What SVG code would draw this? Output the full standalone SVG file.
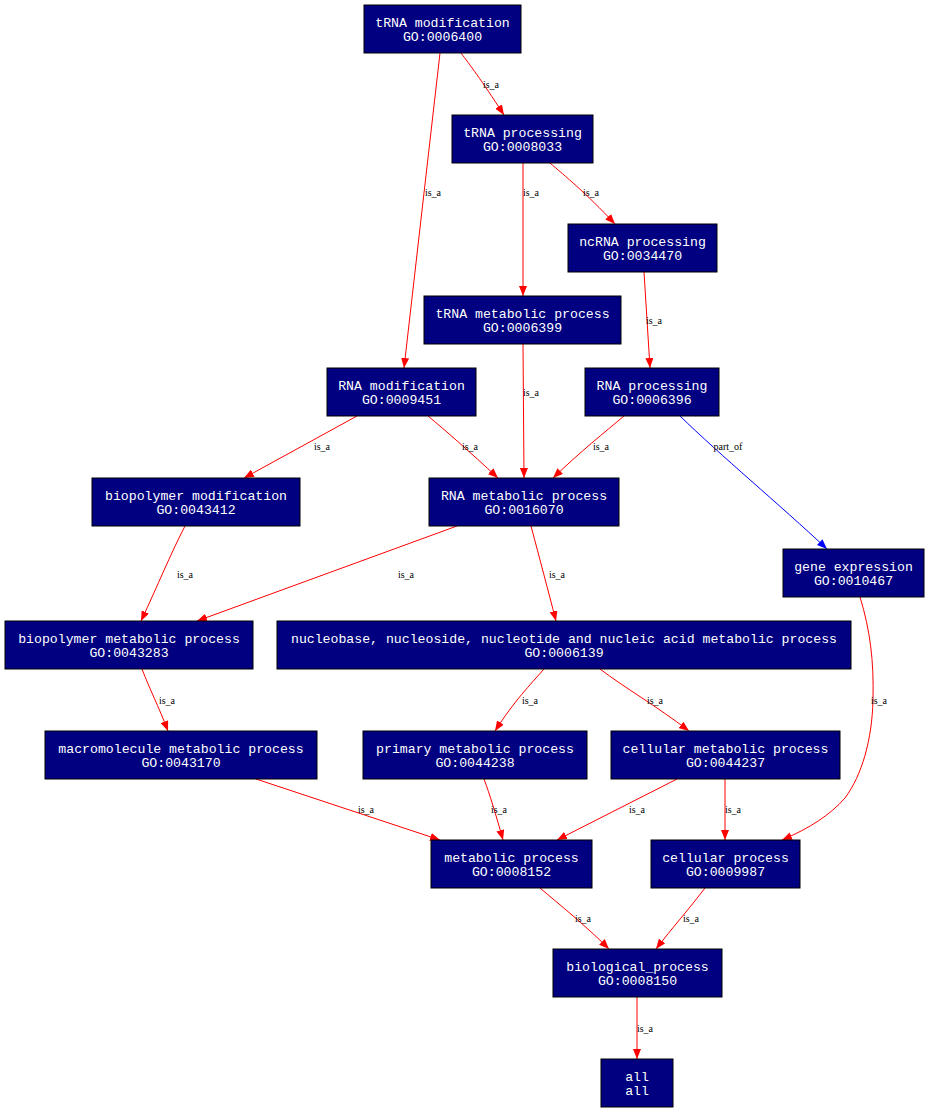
<svg xmlns="http://www.w3.org/2000/svg" width="929" height="1112" viewBox="0 0 929 1112">
<style>
.node rect{fill:#000080;stroke:#000000;stroke-width:1}
.node text{fill:#ffffff;font-family:"Liberation Mono","DejaVu Sans Mono",monospace;font-size:13.2px;text-anchor:middle}
.e{fill:none;stroke:#ff0000;stroke-width:1;marker-end:url(#ar)}
.b{fill:none;stroke:#0000ff;stroke-width:1;marker-end:url(#ab)}
.lbl{fill:#000000;font-family:"Liberation Serif","Times New Roman",serif;font-size:10px;text-anchor:middle}
</style>
<defs>
<marker id="ar" viewBox="0 0 10 8" refX="10" refY="4" markerWidth="10" markerHeight="8" markerUnits="userSpaceOnUse" orient="auto"><path d="M0,0 L10,4 L0,8 z" fill="#ff0000"/></marker>
<marker id="ab" viewBox="0 0 10 8" refX="10" refY="4" markerWidth="10" markerHeight="8" markerUnits="userSpaceOnUse" orient="auto"><path d="M0,0 L10,4 L0,8 z" fill="#0000ff"/></marker>
</defs>
<rect width="929" height="1112" fill="#ffffff"/>
<g id="connectors">
<path class="e" d="M461,53 C470,65 480,78 504,115"/>
<path class="e" d="M440,53 L404,368"/>
<path class="e" d="M523,163 L523,296"/>
<path class="e" d="M550,163 C565,176 585,192 615,224"/>
<path class="e" d="M644,272 L650,368"/>
<path class="e" d="M523,344 L524,478"/>
<path class="e" d="M357,416 L244,478"/>
<path class="e" d="M428,416 C445,430 470,452 498,478"/>
<path class="e" d="M624,416 C605,432 580,452 553,478"/>
<path class="b" d="M680,416 C720,455 780,505 827,549"/>
<path class="e" d="M185,526 C170,555 158,585 141,621"/>
<path class="e" d="M457,526 L197,621"/>
<path class="e" d="M531,526 C540,560 548,590 556,621"/>
<path class="e" d="M860,597 C870,630 874,660 873,700 C872,740 862,775 845,798 C830,815 810,828 782,840"/>
<path class="e" d="M142,669 C150,690 158,705 168,731"/>
<path class="e" d="M544,669 C530,685 515,700 495,731"/>
<path class="e" d="M600,669 C625,688 655,705 689,731"/>
<path class="e" d="M256,779 L440,840"/>
<path class="e" d="M484,779 C490,795 496,815 503,840"/>
<path class="e" d="M677,779 L557,840"/>
<path class="e" d="M725,779 L725,840"/>
<path class="e" d="M540,888 C560,905 585,925 609,949"/>
<path class="e" d="M705,888 C690,908 672,928 656,949"/>
<path class="e" d="M637,997 L637,1059"/>
<text class="lbl" x="491" y="88">is_a</text>
<text class="lbl" x="433" y="196">is_a</text>
<text class="lbl" x="531" y="196">is_a</text>
<text class="lbl" x="591" y="196">is_a</text>
<text class="lbl" x="654" y="324">is_a</text>
<text class="lbl" x="531" y="396">is_a</text>
<text class="lbl" x="322" y="450">is_a</text>
<text class="lbl" x="470" y="450">is_a</text>
<text class="lbl" x="601" y="450">is_a</text>
<text class="lbl" x="728" y="450">part_of</text>
<text class="lbl" x="185" y="578">is_a</text>
<text class="lbl" x="406" y="578">is_a</text>
<text class="lbl" x="557" y="578">is_a</text>
<text class="lbl" x="879" y="704">is_a</text>
<text class="lbl" x="167" y="704">is_a</text>
<text class="lbl" x="530" y="704">is_a</text>
<text class="lbl" x="655" y="704">is_a</text>
<text class="lbl" x="366" y="813">is_a</text>
<text class="lbl" x="499" y="813">is_a</text>
<text class="lbl" x="637" y="813">is_a</text>
<text class="lbl" x="733" y="813">is_a</text>
<text class="lbl" x="583" y="922">is_a</text>
<text class="lbl" x="691" y="922">is_a</text>
<text class="lbl" x="645" y="1032">is_a</text>
</g>
<g id="n_GO0006400" class="node"><rect x="364" y="5" width="157" height="48"/><text x="442.5" y="27">tRNA modification</text><text x="442.5" y="41">GO:0006400</text></g>
<g id="n_GO0008033" class="node"><rect x="452" y="115" width="141" height="48"/><text x="522.5" y="137">tRNA processing</text><text x="522.5" y="151">GO:0008033</text></g>
<g id="n_GO0034470" class="node"><rect x="568" y="224" width="149" height="48"/><text x="642.5" y="246">ncRNA processing</text><text x="642.5" y="260">GO:0034470</text></g>
<g id="n_GO0006399" class="node"><rect x="424" y="296" width="197" height="48"/><text x="522.5" y="318">tRNA metabolic process</text><text x="522.5" y="332">GO:0006399</text></g>
<g id="n_GO0009451" class="node"><rect x="327" y="368" width="149" height="48"/><text x="401.5" y="390">RNA modification</text><text x="401.5" y="404">GO:0009451</text></g>
<g id="n_GO0006396" class="node"><rect x="585" y="368" width="134" height="48"/><text x="652" y="390">RNA processing</text><text x="652" y="404">GO:0006396</text></g>
<g id="n_GO0043412" class="node"><rect x="92" y="478" width="208" height="48"/><text x="196" y="500">biopolymer modification</text><text x="196" y="514">GO:0043412</text></g>
<g id="n_GO0016070" class="node"><rect x="429" y="478" width="190" height="48"/><text x="524" y="500">RNA metabolic process</text><text x="524" y="514">GO:0016070</text></g>
<g id="n_GO0010467" class="node"><rect x="783" y="549" width="141" height="48"/><text x="853.5" y="571">gene expression</text><text x="853.5" y="585">GO:0010467</text></g>
<g id="n_GO0043283" class="node"><rect x="5" y="621" width="248" height="48"/><text x="129" y="643">biopolymer metabolic process</text><text x="129" y="657">GO:0043283</text></g>
<g id="n_GO0006139" class="node"><rect x="277" y="621" width="574" height="48"/><text x="564" y="643">nucleobase, nucleoside, nucleotide and nucleic acid metabolic process</text><text x="564" y="657">GO:0006139</text></g>
<g id="n_GO0043170" class="node"><rect x="45" y="731" width="272" height="48"/><text x="181" y="753">macromolecule metabolic process</text><text x="181" y="767">GO:0043170</text></g>
<g id="n_GO0044238" class="node"><rect x="363" y="731" width="224" height="48"/><text x="475" y="753">primary metabolic process</text><text x="475" y="767">GO:0044238</text></g>
<g id="n_GO0044237" class="node"><rect x="611" y="731" width="229" height="48"/><text x="725.5" y="753">cellular metabolic process</text><text x="725.5" y="767">GO:0044237</text></g>
<g id="n_GO0008152" class="node"><rect x="431" y="840" width="161" height="48"/><text x="511.5" y="862">metabolic process</text><text x="511.5" y="876">GO:0008152</text></g>
<g id="n_GO0009987" class="node"><rect x="651" y="840" width="149" height="48"/><text x="725.5" y="862">cellular process</text><text x="725.5" y="876">GO:0009987</text></g>
<g id="n_GO0008150" class="node"><rect x="553" y="949" width="169" height="48"/><text x="637.5" y="971">biological_process</text><text x="637.5" y="985">GO:0008150</text></g>
<g id="n_all" class="node"><rect x="601" y="1059" width="72" height="48"/><text x="637" y="1081">all</text><text x="637" y="1095">all</text></g>
</svg>
